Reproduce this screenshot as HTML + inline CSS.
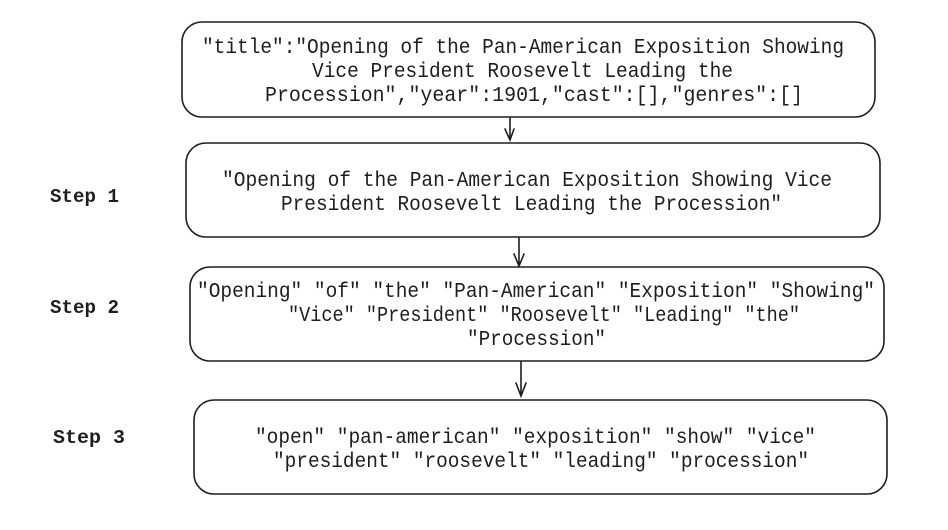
<!DOCTYPE html>
<html><head><meta charset="utf-8"><style>
html,body{margin:0;padding:0;background:#fff;}
svg{display:block}
text{font-family:"Liberation Mono",monospace;font-size:21px;fill:#1e1e1e}
.s{font-weight:bold;font-size:19px}
</style></head><body>
<svg width="948" height="530" viewBox="0 0 948 530" xmlns="http://www.w3.org/2000/svg">
<g fill="none" stroke="#1e1e1e" stroke-width="1.6" stroke-linecap="round">
<rect x="182" y="22" width="693" height="95" rx="20"/>
<rect x="186" y="143" width="694" height="94" rx="20"/>
<rect x="190" y="267" width="694" height="94" rx="20"/>
<rect x="194" y="400" width="693" height="94" rx="20"/>
<path d="M510 118 L510 140 M505 129 L510 140 L514 129"/>
<path d="M519 238 L519 266 M514 254 L519 266 L524 254"/>
<path d="M521 362 L521 396 M516 383 L521 396 L526 383"/>
</g>
<text x="202" y="53" textLength="642" lengthAdjust="spacingAndGlyphs">"title":"Opening of the Pan-American Exposition Showing</text>
<text x="312" y="77" textLength="421" lengthAdjust="spacingAndGlyphs">Vice President Roosevelt Leading the</text>
<text x="265" y="101" textLength="538" lengthAdjust="spacingAndGlyphs">Procession","year":1901,"cast":[],"genres":[]</text>
<text x="222" y="186" textLength="610" lengthAdjust="spacingAndGlyphs">"Opening of the Pan-American Exposition Showing Vice</text>
<text x="281" y="210" textLength="501" lengthAdjust="spacingAndGlyphs">President Roosevelt Leading the Procession"</text>
<text x="197" y="297" textLength="678" lengthAdjust="spacingAndGlyphs">"Opening" "of" "the" "Pan-American" "Exposition" "Showing"</text>
<text x="288" y="321" textLength="512" lengthAdjust="spacingAndGlyphs">"Vice" "President" "Roosevelt" "Leading" "the"</text>
<text x="467" y="345" textLength="139" lengthAdjust="spacingAndGlyphs">"Procession"</text>
<text x="255" y="443" textLength="561" lengthAdjust="spacingAndGlyphs">"open" "pan-american" "exposition" "show" "vice"</text>
<text x="273" y="467" textLength="536" lengthAdjust="spacingAndGlyphs">"president" "roosevelt" "leading" "procession"</text>
<text class="s" x="50" y="202" textLength="69" lengthAdjust="spacingAndGlyphs">Step 1</text>
<text class="s" x="50" y="313" textLength="69" lengthAdjust="spacingAndGlyphs">Step 2</text>
<text class="s" x="53" y="443" textLength="72" lengthAdjust="spacingAndGlyphs">Step 3</text>
</svg>
</body></html>
